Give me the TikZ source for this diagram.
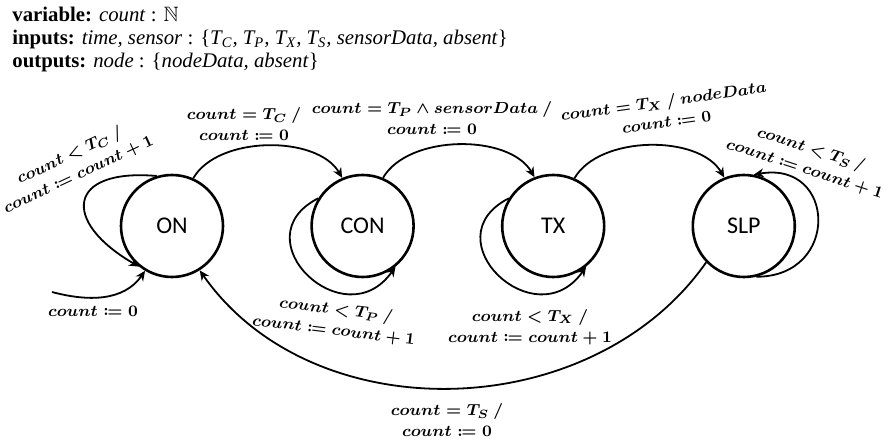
\documentclass[tikz,border=0pt]{standalone}
\usepackage{fontspec}
\usepackage{amsmath,amssymb,mathtools}
\usetikzlibrary{arrows.meta, positioning}
\setmainfont{Liberation Serif}
\newfontfamily\modefont{Carlito}
\definecolor{mydark}{RGB}{0,0,0}
\tikzset{
  mode/.style={circle, draw=mydark, line width=1.3pt, minimum size=51pt,
    inner sep=0pt, font=\modefont\fontsize{12}{14}\selectfont},
  arrow/.style={-{Stealth[length=5pt,width=4.5pt]}, line width=0.9pt, color=mydark},
  lbl/.style={align=center, inner sep=0pt,
    font=\fontsize{8.4}{10.5}\selectfont\boldmath}
}

\begin{document}
\begin{tikzpicture}[x=0.5pt, y=0.5pt, node distance=43pt]
  \useasboundingbox (0,0) rectangle (888,439);
  % Declarations
  \node[anchor=north west, align=left, inner sep=0pt,
    font=\fontsize{10.4}{11.5}\selectfont] (decl) at (12,432)
    {\textbf{variable:} \textit{count} : $\mathbb{N}$\\
     \textbf{inputs:} \textit{time, sensor} : \{\textit{T\textsubscript{C}, T\textsubscript{P}, T\textsubscript{X}, T\textsubscript{S}, sensorData, absent}\}\\
     \textbf{outputs:} \textit{node} : \{\textit{nodeData, absent}\}};
  % States
  \node[mode] (on) at (172,213) {ON};
  \node[mode, right=of on] (con) {CON};
  \node[mode, right=of con] (tx) {TX};
  \node[mode, right=of tx] (slp) {SLP};
  % Transitions
  \coordinate (init) at (52,147);
  \draw[arrow] (init) to[out=-15, in=235] (on.239);
  \draw[arrow] (on.107) to[out=175, in=150, looseness=2.5] (on.231);
  \draw[arrow] (on.66) to[out=60, in=120, looseness=0.85] (con.113);
  \draw[arrow] (con.148) to[out=207, in=235, looseness=2.2] (con.-51);
  \draw[arrow] (con.67) to[out=60, in=120, looseness=0.85] (tx.111);
  \draw[arrow] (tx.148) to[out=207, in=235, looseness=2.2] (tx.-51);
  \draw[arrow] (tx.66) to[out=60, in=120, looseness=0.85] (slp.112);
  \draw[arrow] (slp.-76) to[out=0, in=10, looseness=2.1] (slp.79);
  \draw[arrow] (slp.224) to[out=235, in=-55] (on.-58);
  % Guards / updates
  \node[lbl] (l-init) at (93,128) {$count \coloneqq 0$};
  \node[lbl, rotate=25] (l-on) at (74,274)
    {$count < T_C\ /$\\ $count \coloneqq count + 1$};
  \node[lbl] (l-oncon) at (244,315) {$count = T_C\ /$\\ $count \coloneqq 0$};
  \node[lbl, rotate=-7] (l-con) at (335,119)
    {$count < T_P\ /$\\ $count \coloneqq count + 1$};
  \node[lbl] (l-contx) at (432,321)
    {$count = T_P \wedge sensorData\ /$\\ $count \coloneqq 0$};
  \node[lbl] (l-tx) at (530,112)
    {$count < T_X\ /$\\ $count \coloneqq count + 1$};
  \node[lbl, rotate=8] (l-txslp) at (665,328)
    {$count = T_X\ /\ nodeData$\\ $count \coloneqq 0$};
  \node[lbl, rotate=-18] (l-slp) at (808,280)
    {$count < T_S\ /$\\ $count \coloneqq count + 1$};
  \node[lbl] (l-slpon) at (447,19) {$count = T_S\ /$\\ $count \coloneqq 0$};
\end{tikzpicture}
\end{document}
